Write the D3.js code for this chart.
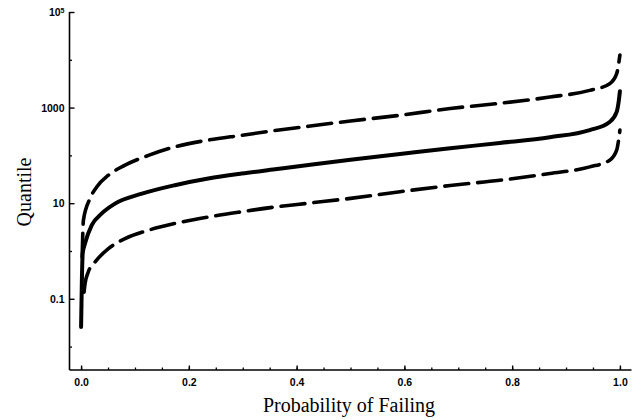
<!DOCTYPE html>
<html>
<head>
<meta charset="utf-8">
<script src="https://cdn.jsdelivr.net/npm/d3@7"></script>
<style>
  body { margin: 0; background: #fff; }
</style>
</head>
<body>
<div id="chart"></div>
<script>
// values (quantile against probability)
const probSolid = [0, 0.0015, 0.003, 0.0074, 0.0198, 0.038, 0.063, 0.113, 0.174, 0.236, 0.298, 0.36, 0.422, 0.50, 0.592, 0.685, 0.777, 0.87, 0.944, 0.981, 0.994, 0.998, 1.0];
const quantSolid = [0.0257, 0.251, 0.891, 1.45, 3.47, 6.03, 9.77, 15.8, 23.8, 32.8, 41.7, 51.3, 63.1, 81.3, 107, 141, 182, 240, 339, 501, 813, 1413, 2188];

const probUpper = [0.002, 0.0043, 0.0167, 0.029, 0.0507, 0.0816, 0.125, 0.174, 0.236, 0.298, 0.36, 0.422, 0.50, 0.592, 0.685, 0.777, 0.87, 0.944, 0.981, 0.994, 1.0];
const quantUpper = [0.741, 4.37, 12.6, 21.9, 38.5, 62.4, 100, 151, 209, 263, 331, 407, 525, 692, 955, 1230, 1660, 2291, 3162, 5129, 12589];

const probLower = [0.0055, 0.0074, 0.013, 0.026, 0.0507, 0.0816, 0.125, 0.174, 0.236, 0.298, 0.36, 0.422, 0.50, 0.592, 0.685, 0.777, 0.87, 0.944, 0.981, 0.994, 1.0];
const quantLower = [0.138, 0.209, 0.355, 0.589, 1.12, 1.82, 2.72, 3.76, 5.13, 6.61, 8.32, 10, 12.6, 17.4, 23.4, 30.2, 41.7, 57.5, 79.4, 129, 339];

const xMajor = [0, 0.2, 0.4, 0.6, 0.8, 1.0];
const xMinor = d3.range(0, 1.0001, 0.05);
const yMajor = [0.1, 10, 1000, 1e5];
const yMinor = [0.01, 1, 100, 1e4];

const W = 639, H = 420;
const sans = '"Liberation Sans", Arial, sans-serif';
const serif = '"Liberation Serif", "Times New Roman", "DejaVu Serif", serif';

const svg = d3.select('#chart').append('svg')
    .attr('width', W)
    .attr('height', H);

const x = d3.scaleLinear().domain([-0.0215, 1.0215]).range([69.5, 631.5]);
const y = d3.scaleLog().domain([Math.pow(10, -2.49), 1e5]).range([370, 12]);

// x axis, ticks pointing inward
svg.append('g')
    .attr('transform', `translate(0,${y.range()[0]})`)
    .call(d3.axisTop(x).tickValues(xMinor).tickSize(2.5).tickFormat(''))
    .call(g => g.select('.domain').remove())
    .call(g => g.selectAll('line').attr('stroke-width', 1.3));

svg.append('g')
    .attr('transform', `translate(0,${y.range()[0]})`)
    .call(d3.axisTop(x).tickValues(xMajor).tickSize(4.5).tickFormat(d3.format('.1f')))
    .call(g => g.select('.domain').attr('d', `M${x.range()[0]},0H${x.range()[1]}`).attr('stroke-width', 1.6))
    .call(g => g.selectAll('line').attr('stroke-width', 1.4))
    .call(g => g.selectAll('text').attr('y', 16).attr('dy', 0)
        .attr('font-family', sans).attr('font-weight', 'bold').attr('font-size', 10.5));

// y axis, ticks pointing inward
svg.append('g')
    .attr('transform', `translate(${x.range()[0]},0)`)
    .call(d3.axisRight(y).tickValues(yMinor).tickSize(2.5).tickFormat(''))
    .call(g => g.select('.domain').remove())
    .call(g => g.selectAll('line').attr('stroke-width', 1.3));

const yAxis = svg.append('g')
    .attr('transform', `translate(${x.range()[0]},0)`)
    .call(d3.axisRight(y).tickValues(yMajor).tickSize(5).tickFormat(d => d === 1e5 ? '' : (d >= 1 ? d3.format('d')(d) : d3.format('.1f')(d))))
    .call(g => g.select('.domain').attr('d', `M0,${y.range()[1]}V${y.range()[0]}`).attr('stroke-width', 1.6))
    .call(g => g.selectAll('line').attr('stroke-width', 1.4))
    .call(g => g.selectAll('text').attr('x', -5).attr('text-anchor', 'end').attr('dy', '0.35em')
        .attr('font-family', sans).attr('font-weight', 'bold').attr('font-size', 10.5));

// 10^5 label with superscript
yAxis.selectAll('.tick').filter(d => d === 1e5).select('text')
    .call(t => {
        t.append('tspan').text('10');
        t.append('tspan').attr('dy', '-0.45em').attr('font-size', '7px').text('5');
    });

// curves
const line = d3.line()
    .x(d => x(d[0]))
    .y(d => y(d[1]))
    .curve(d3.curveMonotoneX);

const series = [
    { p: probUpper, q: quantUpper, dash: '24,9', w: 3.6 },
    { p: probLower, q: quantLower, dash: '24,9', w: 3.6 },
    { p: probSolid, q: quantSolid, dash: null, w: 4 }
];

series.forEach(s => {
    svg.append('path')
        .datum(d3.zip(s.p, s.q))
        .attr('fill', 'none')
        .attr('stroke', '#000')
        .attr('stroke-width', s.w)
        .attr('stroke-linecap', 'round')
        .attr('stroke-dasharray', s.dash)
        .attr('d', line);
});

// axis titles
svg.append('text')
    .attr('transform', `translate(31,192) rotate(-90)`)
    .attr('text-anchor', 'middle')
    .attr('font-family', serif)
    .attr('font-size', 20)
    .text('Quantile');

svg.append('text')
    .attr('x', 349)
    .attr('y', 412)
    .attr('text-anchor', 'middle')
    .attr('font-family', serif)
    .attr('font-size', 20)
    .text('Probability of Failing');
</script>
</body>
</html>
